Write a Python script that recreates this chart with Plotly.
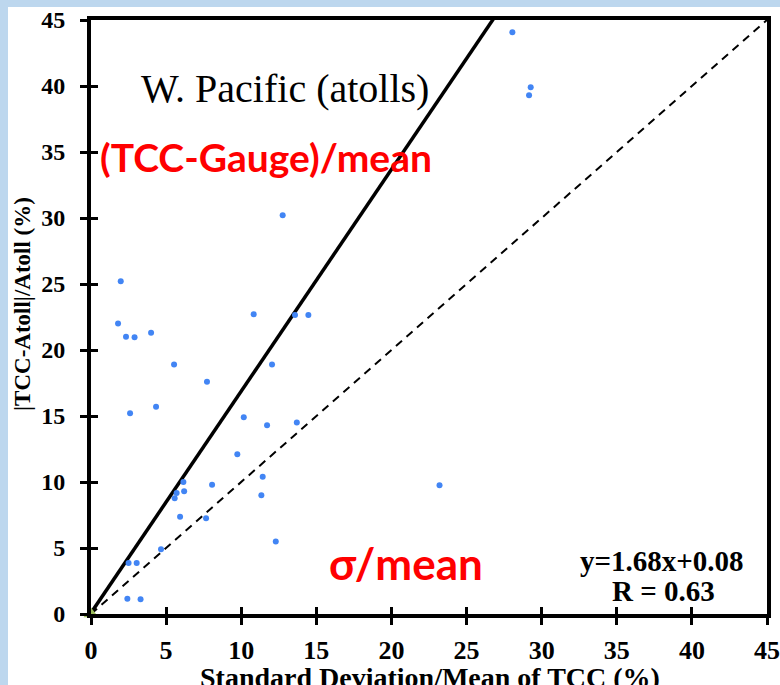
import plotly.graph_objects as go

# Data
x_vals = [1.98, 1.80, 2.33, 2.90, 4.00, 10.83, 13.58, 14.47, 5.53, 12.05, 7.72, 2.60,
          4.33, 10.17, 11.72, 13.70, 9.74, 11.43, 6.15, 8.06, 5.70, 6.20, 5.57, 11.34,
          5.93, 7.66, 12.30, 4.66, 2.50, 3.04, 2.42, 3.30, 28.05, 29.27, 29.16, 23.20, 12.76]
y_vals = [25.2, 22.0, 21.0, 20.96, 21.3, 22.7, 22.65, 22.65, 18.9, 18.9, 17.6, 15.2,
          15.7, 14.9, 14.3, 14.5, 12.1, 10.4, 10.0, 9.8, 9.17, 9.3, 8.76, 9.0,
          7.37, 7.25, 5.5, 4.9, 3.86, 3.86, 1.16, 1.11, 44.07, 39.9, 39.3, 9.75, 30.2]
origin_x = [0]
origin_y = [0]
slope = 1.68
intercept = 0.08
one_to_one = [0, 45]
tick_vals = [0, 5, 10, 15, 20, 25, 30, 35, 40, 45]
tick_text = ["0", "5", "10", "15", "20", "25", "30", "35", "40", "45"]

fit_x = [0, 45]
fit_y = [slope * v + intercept for v in fit_x]

W, H = 780, 685
L, R, T, B = 91, 13, 20, 71
pw, ph = W - L - R, H - T - B

SERIF = "Liberation Serif, Times New Roman, serif"
SANS = "Lato, Carlito, Calibri, sans-serif"

fig = go.Figure()
fig.add_trace(go.Scatter(x=one_to_one, y=one_to_one, mode="lines",
                         line=dict(color="black", width=2, dash="8px,6px"),
                         hoverinfo="skip", showlegend=False))
fig.add_trace(go.Scatter(x=fit_x, y=fit_y, mode="lines",
                         line=dict(color="black", width=3.5),
                         hoverinfo="skip", showlegend=False))
fig.add_trace(go.Scatter(x=x_vals, y=y_vals, mode="markers",
                         marker=dict(color="#4285F4", size=6),
                         showlegend=False))
fig.add_trace(go.Scatter(x=origin_x, y=origin_y, mode="markers",
                         marker=dict(color="#9BBB59", size=13, symbol="triangle-up"),
                         cliponaxis=False, showlegend=False))
# invisible trace on overlay axes (for crossing tick marks)
fig.add_trace(go.Scatter(x=[0, 45], y=[0, 45], xaxis="x2", yaxis="y2", mode="markers",
                         marker=dict(opacity=0), showlegend=False, hoverinfo="skip"))

axis_common = dict(range=[0, 45], tickvals=tick_vals, ticktext=tick_text,
                   showgrid=False, zeroline=False, showline=True, automargin=False,
                   linecolor="black", linewidth=4, mirror=True,
                   ticks="outside", ticklen=7, tickwidth=3, tickcolor="black")

fig.update_layout(
    width=W, height=H,
    margin=dict(l=L, r=R, t=T, b=B, pad=0, autoexpand=False),
    paper_bgcolor="white", plot_bgcolor="white",
    xaxis=dict(**axis_common,
               tickfont=dict(family=SERIF, size=26, color="black", weight="bold"),
               ticklabelstandoff=3),
    yaxis=dict(**axis_common,
               tickfont=dict(family=SERIF, size=24, color="black", weight="bold"),
               ticklabelstandoff=10),
    xaxis2=dict(range=[0, 45], tickvals=tick_vals, overlaying="x", anchor="y",
                ticks="inside", ticklen=7, tickwidth=3, tickcolor="black", automargin=False,
                showticklabels=False, showgrid=False, zeroline=False, showline=False),
    yaxis2=dict(range=[0, 45], tickvals=tick_vals, overlaying="y", anchor="x",
                ticks="inside", ticklen=7, tickwidth=3, tickcolor="black", automargin=False,
                showticklabels=False, showgrid=False, zeroline=False, showline=False),
    showlegend=False,
)

def px_x(p):
    return (p - L) / pw

def px_y(p):
    return 1 - (p - T) / ph

# light blue frame strips (top and left)
fig.add_shape(type="rect", xref="paper", yref="paper", layer="below",
              x0=px_x(0), x1=px_x(W), y0=px_y(7), y1=px_y(0),
              fillcolor="#BDD7EE", line=dict(width=0))
fig.add_shape(type="rect", xref="paper", yref="paper", layer="below",
              x0=px_x(0), x1=px_x(8), y0=px_y(H), y1=px_y(0),
              fillcolor="#BDD7EE", line=dict(width=0))

def ann(text, x, y, font, **kw):
    fig.add_annotation(text=text, xref="paper", yref="paper", x=px_x(x), y=px_y(y),
                       showarrow=False, font=font, xanchor="center", yanchor="middle", **kw)

ann("<b>|TCC-Atoll|/Atoll (%)</b>", 22, 304, dict(family=SERIF, size=23, color="black"),
    textangle=-90)
ann("<b>Standard Deviation/Mean of TCC (%)</b>", 430, 677,
    dict(family=SERIF, size=28, color="black"))
ann("W. Pacific (atolls)", 285, 88, dict(family=SERIF, size=40, color="black"))
ann("<b>(TCC-Gauge)/mean</b>", 266, 157, dict(family=SANS, size=39, color="#FF0000"))
ann("<b>σ/mean</b>", 406, 563, dict(family=SANS, size=44, color="#FF0000"))
ann("<b>y=1.68x+0.08</b>", 662, 561, dict(family=SERIF, size=29, color="black"))
ann("<b>R = 0.63</b>", 663, 591, dict(family=SERIF, size=29, color="black"))

fig.write_html("out.html")
